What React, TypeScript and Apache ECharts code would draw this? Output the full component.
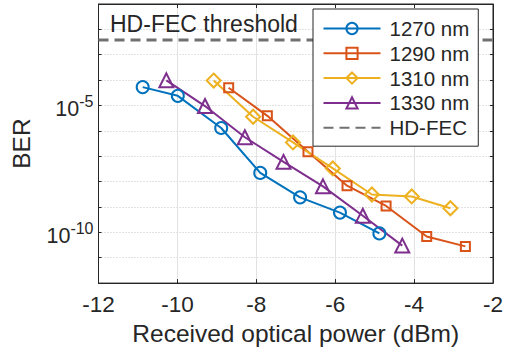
import React, { useEffect, useRef } from "react";
import * as echarts from "echarts";

const power1270 = [-10.88, -9.99, -8.89, -7.9, -6.89, -5.88, -4.88];
const ber1270 = [5.3e-5, 2.4e-5, 1.3e-6, 2.2e-8, 2.4e-9, 6.0e-10, 9.1e-11];
const power1290 = [-8.7, -7.72, -6.69, -5.7, -4.71, -3.68, -2.7];
const ber1290 = [5.0e-5, 3.9e-6, 1.5e-7, 6.9e-9, 1.1e-9, 6.9e-11, 2.8e-11];
const power1310 = [-9.08, -8.08, -7.07, -6.06, -5.07, -4.06, -3.08];
const ber1310 = [9.6e-5, 3.6e-6, 3.5e-7, 3.3e-8, 3.1e-9, 2.6e-9, 8.9e-10];
const power1330 = [-10.28, -9.3, -8.29, -7.31, -6.31, -5.3, -4.3];
const ber1330 = [9.8e-5, 9.5e-6, 5.6e-7, 6.0e-8, 6.5e-9, 4.5e-10, 3.0e-11];
const hdFecLevel = 3.8e-3;
const xRange = [-12, -2];
const yRange = [1e-12, 1e-1];
const labelledDecades = [-5, -10];

const names = ["1270 nm", "1290 nm", "1310 nm", "1330 nm", "HD-FEC"];
const colors = ["#0072BD", "#D95319", "#EDB120", "#7E2F8E"];
const symbols = ["circle", "rect", "diamond", "triangle"];
const symbolSizes = [12, 9, 14, 14];

const zip = (xs: number[], ys: number[]) => xs.map((x, i) => [x, ys[i]]);

export default function App() {
  const ref = useRef<HTMLDivElement>(null);
  useEffect(() => {
    if (!ref.current) return;
    const chart = echarts.init(ref.current, undefined, { renderer: "svg" });
    const font = "Liberation Sans, Arial, Helvetica, sans-serif";
    const axisColor = "#262626";
    const dataSets = [
      zip(power1270, ber1270),
      zip(power1290, ber1290),
      zip(power1310, ber1310),
      zip(power1330, ber1330),
    ];
    const lineSeries = dataSets.map((d, i) => ({
      type: "line",
      name: names[i],
      data: d,
      symbol: symbols[i],
      symbolSize: symbolSizes[i],
      lineStyle: { color: colors[i], width: 2 },
      itemStyle: { color: "rgba(255,255,255,0)", borderColor: colors[i], borderWidth: 2 },
      z: 3,
    }));
    const option: any = {
      animation: false,
      textStyle: { fontFamily: font },
      grid: {
        left: 98.5,
        right: 11,
        top: 4,
        bottom: 63,
        show: true,
        borderColor: axisColor,
        borderWidth: 1,
      },
      graphic: [
        {
          type: "text",
          left: 110,
          top: 12,
          style: { text: "HD-FEC threshold", fontSize: 23, fontFamily: font, fill: "#262626" },
          z: 10,
        },
      ],
      legend: {
        data: names,
        orient: "vertical",
        left: 313,
        top: 9,
        padding: [9, 9, 8, 9.5],
        itemWidth: 57,
        itemHeight: 14,
        itemGap: 3.8,
        backgroundColor: "#ffffff",
        borderColor: axisColor,
        borderWidth: 1,
        borderRadius: 0,
        textStyle: { fontSize: 20.5, color: "#262626", fontFamily: font, padding: [0, 0, 0, 4] },
        z: 20,
      },
      xAxis: [
        {
          type: "value",
          min: xRange[0],
          max: xRange[1],
          interval: 2,
          name: "Received optical power (dBm)",
          nameLocation: "middle",
          nameGap: 37,
          nameTextStyle: { fontSize: 24.5, color: "#262626", fontFamily: font },
          axisLine: { show: true, onZero: false, lineStyle: { color: axisColor, width: 1 } },
          axisTick: { show: true, inside: true, length: 4, lineStyle: { color: axisColor } },
          axisLabel: { fontSize: 22.5, color: "#262626", margin: 10, fontFamily: font },
          splitLine: { show: true, lineStyle: { color: "#e2e2e2", width: 1 } },
        },
        {
          type: "value",
          position: "top",
          min: xRange[0],
          max: xRange[1],
          interval: 2,
          axisLine: { show: true, onZero: false, lineStyle: { color: axisColor, width: 1 } },
          axisTick: { show: true, inside: true, length: 4, lineStyle: { color: axisColor } },
          axisLabel: { show: false },
          splitLine: { show: false },
        },
      ],
      yAxis: [
        {
          type: "log",
          logBase: 10,
          min: yRange[0],
          max: yRange[1],
          interval: 1,
          name: "BER",
          nameLocation: "middle",
          nameGap: 65,
          nameTextStyle: { fontSize: 24.5, color: "#262626", fontFamily: font },
          axisLine: { show: true, onZero: false, lineStyle: { color: axisColor, width: 1 } },
          axisTick: { show: true, inside: true, length: 3, lineStyle: { color: axisColor } },
          axisLabel: {
            margin: 5,
            color: "#262626",
            fontFamily: font,
            formatter: (v: number) => {
              const e = Math.round(Math.log10(v));
              return labelledDecades.includes(e) ? `{base|10}{sup|${e}}` : "";
            },
            rich: {
              base: { fontSize: 21.5, fontFamily: font, color: "#262626", padding: [8, 0, 0, 0] },
              sup: { fontSize: 16, fontFamily: font, color: "#262626", padding: [0, 0, 7, 0] },
            },
          },
          splitLine: { show: true, lineStyle: { color: "#c4c4c4", width: 1, type: [1, 2] } },
        },
        {
          type: "log",
          logBase: 10,
          position: "right",
          min: yRange[0],
          max: yRange[1],
          interval: 1,
          axisLine: { show: true, onZero: false, lineStyle: { color: axisColor, width: 1 } },
          axisTick: { show: true, inside: true, length: 3, lineStyle: { color: axisColor } },
          axisLabel: { show: false },
          splitLine: { show: false },
        },
      ],
      series: [
        {
          type: "line",
          name: "majorGrid",
          data: [],
          z: 1,
          silent: true,
          markLine: {
            silent: true,
            symbol: "none",
            label: { show: false },
            lineStyle: { color: "#e2e2e2", width: 1, type: "solid" },
            data: labelledDecades.map((e) => ({ yAxis: Math.pow(10, e) })),
          },
        },
        ...lineSeries,
        {
          type: "line",
          name: "HD-FEC",
          data: [
            [xRange[0], hdFecLevel],
            [xRange[1], hdFecLevel],
          ],
          symbol: "circle",
          showSymbol: false,
          symbolSize: 0,
          lineStyle: { color: "#707070", width: 3, type: [10, 6] },
          itemStyle: { color: "rgba(0,0,0,0)", borderWidth: 0 },
          z: 2,
        },
      ],
    };
    chart.setOption(option);
    return () => chart.dispose();
  }, []);
  return (
    <div
      ref={ref}
      style={{ position: "fixed", left: 0, top: 0, width: 506, height: 351, background: "#fff" }}
    />
  );
}
